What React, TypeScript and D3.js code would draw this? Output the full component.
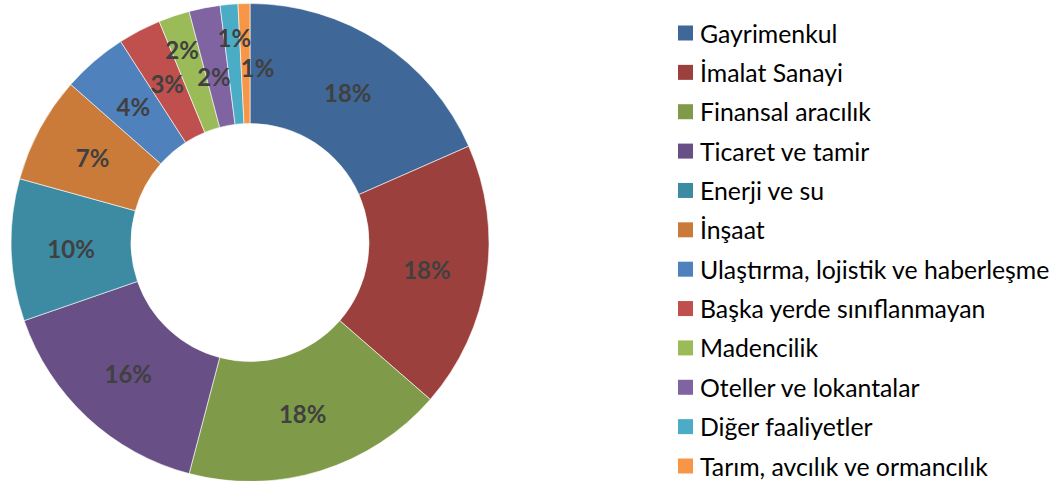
import React, { useRef, useEffect } from "react";
import * as d3 from "d3";

// sector names, shares (%) and the label text shown on each slice
const sectors = [
  "Gayrimenkul",
  "İmalat Sanayi",
  "Finansal aracılık",
  "Ticaret ve tamir",
  "Enerji ve su",
  "İnşaat",
  "Ulaştırma, lojistik ve haberleşme",
  "Başka yerde sınıflanmayan",
  "Madencilik",
  "Oteller ve lokantalar",
  "Diğer faaliyetler",
  "Tarım, avcılık ve ormancılık",
];
const shares = [18.4, 18.0, 17.7, 15.6, 9.6, 7.2, 4.4, 2.9, 2.1, 2.1, 1.2, 0.8];
const shareLabels = ["18%", "18%", "18%", "16%", "10%", "7%", "4%", "3%", "2%", "2%", "1%", "1%"];

const colors = [
  "#3f6797", "#9c403d", "#7f9a48", "#684f86", "#3c8ba2", "#cb7b39",
  "#4f81bd", "#c0504d", "#9bbb59", "#8064a2", "#4bacc6", "#f79646",
];

// small label shifts, Excel moves the crowded ones apart
const labelNudge: [number, number][] = [
  [0, 0], [0, 0], [0, 0], [0, 0], [0, 0], [0, 0],
  [0, 0], [0, 0], [-11, -23], [-2, 10], [0, -27], [12, 4],
];

export default function App() {
  const ref = useRef<SVGSVGElement | null>(null);

  useEffect(() => {
    if (!ref.current) return;
    const svg = d3.select(ref.current);
    svg.selectAll("*").remove();

    const cx = 250;
    const cy = 242.5;
    const outer = 239;
    const inner = 119;

    const data = sectors.map((name, i) => ({ name, value: shares[i], label: shareLabels[i], i }));

    const pie = d3
      .pie<any>()
      .sort(null)
      .value((d) => d.value);
    const arc = d3.arc<any>().innerRadius(inner).outerRadius(outer);

    const g = svg.append("g").attr("transform", `translate(${cx},${cy})`);
    const arcs = pie(data);

    g.selectAll("path")
      .data(arcs)
      .enter()
      .append("path")
      .attr("d", arc)
      .attr("fill", (d) => colors[d.data.i])
      .attr("stroke", "#ffffff")
      .attr("stroke-width", 0.6);

    g.selectAll("text")
      .data(arcs)
      .enter()
      .append("text")
      .attr("x", (d) => arc.centroid(d)[0] + labelNudge[d.data.i][0])
      .attr("y", (d) => arc.centroid(d)[1] + labelNudge[d.data.i][1])
      .attr("text-anchor", "middle")
      .attr("dominant-baseline", "central")
      .attr("font-family", "Lato, 'Open Sans', sans-serif")
      .attr("font-weight", "bold")
      .attr("font-size", "24px")
      .attr("fill", "#404040")
      .text((d) => d.data.label);

    // Legend
    const rowY = d3.scaleLinear().domain([0, sectors.length - 1]).range([33, 466]);
    const legend = svg.append("g");
    const rows = legend
      .selectAll("g")
      .data(data)
      .enter()
      .append("g")
      .attr("transform", (d) => `translate(678,${rowY(d.i)})`);

    rows
      .append("rect")
      .attr("x", 0)
      .attr("y", -7.5)
      .attr("width", 15)
      .attr("height", 15)
      .attr("fill", (d) => colors[d.i]);

    rows
      .append("text")
      .attr("x", 22)
      .attr("y", 0)
      .attr("dominant-baseline", "central")
      .attr("font-family", "Lato, 'Open Sans', sans-serif")
      .attr("font-size", "24.8px")
      .attr("fill", "#000000")
      .text((d) => d.name);
  }, []);

  return (
    <svg
      ref={ref}
      width={1061}
      height={481}
      style={{ position: "absolute", left: 0, top: 0, background: "#fff" }}
    />
  );
}
